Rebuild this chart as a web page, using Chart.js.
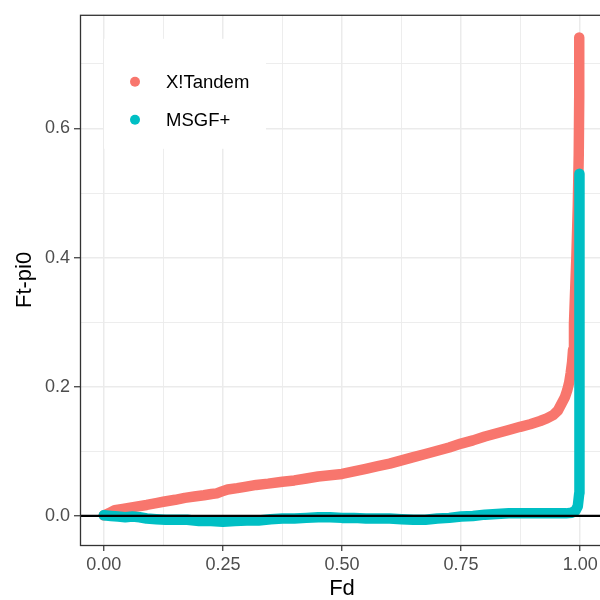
<!DOCTYPE html>
<html>
<head>
<meta charset="utf-8">
<script src="https://cdn.jsdelivr.net/npm/chart.js@4.4.1/dist/chart.umd.min.js"></script>
<style>
    html, body { margin: 0; padding: 0; background: #fff; overflow: hidden; width: 600px; height: 600px; }
    #wrap { width: 606px; height: 600px; }
</style>
</head>
<body>
<div id="wrap"><canvas id="chart" width="606" height="600"></canvas></div>
<script>
// Données
const tandemFd = [0.000, 0.010, 0.023, 0.040, 0.065, 0.090, 0.110, 0.125, 0.150, 0.170, 0.190, 0.210, 0.226, 0.237,
    0.248, 0.260, 0.280, 0.296, 0.320, 0.345, 0.375, 0.400, 0.425, 0.450, 0.475, 0.500, 0.525, 0.550, 0.575, 0.600,
    0.625, 0.650, 0.675, 0.700, 0.725, 0.750, 0.775, 0.800, 0.825, 0.850, 0.874, 0.895, 0.916, 0.930, 0.943, 0.953,
    0.961, 0.968, 0.973, 0.977, 0.980, 0.983, 0.985, 0.987, 0.989, 0.992, 0.995, 0.997, 0.998, 0.998];
const tandemFt = [0.001, 0.004, 0.009, 0.011, 0.014, 0.017, 0.020, 0.022, 0.025, 0.028, 0.030, 0.032, 0.034, 0.035,
    0.038, 0.041, 0.043, 0.045, 0.048, 0.050, 0.053, 0.055, 0.058, 0.061, 0.063, 0.065, 0.069, 0.073, 0.077, 0.081,
    0.086, 0.091, 0.096, 0.101, 0.106, 0.112, 0.117, 0.123, 0.128, 0.133, 0.138, 0.142, 0.147, 0.151, 0.156, 0.163,
    0.174, 0.184, 0.195, 0.207, 0.221, 0.238, 0.257, 0.298, 0.340, 0.400, 0.480, 0.560, 0.650, 0.741];

const msgfFd = [0.000, 0.015, 0.030, 0.045, 0.060, 0.075, 0.090, 0.110, 0.130, 0.150, 0.175, 0.200, 0.225, 0.250,
    0.275, 0.300, 0.325, 0.350, 0.375, 0.400, 0.425, 0.450, 0.475, 0.500, 0.525, 0.550, 0.575, 0.600, 0.625, 0.650,
    0.675, 0.700, 0.725, 0.750, 0.775, 0.800, 0.825, 0.850, 0.875, 0.900, 0.925, 0.950, 0.970, 0.982, 0.990, 0.995,
    0.998, 0.9985, 0.9985];
const msgfFt = [0.001, 0.000, -0.001, -0.002, -0.001, -0.002, -0.004, -0.005, -0.006, -0.006, -0.006, -0.008, -0.008, -0.009,
    -0.008, -0.007, -0.007, -0.005, -0.004, -0.004, -0.003, -0.002, -0.002, -0.003, -0.003, -0.004, -0.004, -0.004, -0.005, -0.006,
    -0.006, -0.004, -0.003, -0.001, 0.000, 0.002, 0.003, 0.004, 0.004, 0.004, 0.004, 0.004, 0.004, 0.005, 0.008, 0.015,
    0.035, 0.100, 0.530];

const seriesNames = ['X!Tandem', 'MSGF+'];
const seriesColors = ['#F8766D', '#00BFC4'];

const xTickValues = [0, 0.25, 0.5, 0.75, 1];
const xTickLabels = ['0.00', '0.25', '0.50', '0.75', '1.00'];
const xMinorValues = [0.125, 0.375, 0.625, 0.875];
const yTickValues = [0, 0.2, 0.4, 0.6];
const yTickLabels = ['0.0', '0.2', '0.4', '0.6'];
const yMinorValues = [0.1, 0.3, 0.5, 0.7];

const fontFamily = '"Liberation Sans", Arial, sans-serif';

function toPoints(xs, ys) {
    return xs.map((x, i) => ({ x: x, y: ys[i] }));
}

function majorIndex(values, v) {
    return values.findIndex(t => Math.abs(t - v) < 1e-9);
}

function axisOptions(majors, labels, minors) {
    return {
        type: 'linear',
        afterBuildTicks: scale => {
            scale.ticks = majors.concat(minors).sort((a, b) => a - b).map(v => ({ value: v }));
        },
        ticks: {
            autoSkip: false,
            maxRotation: 0,
            color: '#4D4D4D',
            font: { family: fontFamily, size: 18 },
            callback: value => {
                const i = majorIndex(majors, value);
                return i >= 0 ? labels[i] : '';
            }
        },
        grid: {
            color: '#EBEBEB',
            lineWidth: ctx => (ctx.tick && majorIndex(majors, ctx.tick.value) >= 0) ? 1.5 : 0.9,
            tickColor: ctx => (ctx.tick && majorIndex(majors, ctx.tick.value) >= 0) ? '#333333' : 'rgba(0,0,0,0)',
            tickLength: 6,
            tickWidth: 1.2
        },
        border: { display: false }
    };
}

const xAxis = axisOptions(xTickValues, xTickLabels, xMinorValues);
xAxis.min = -0.05;
xAxis.max = 1.05;
xAxis.ticks.padding = 3;
xAxis.title = { display: true, text: 'Fd', color: '#000', font: { family: fontFamily, size: 22, lineHeight: 1 }, padding: 0 };
xAxis.afterFit = scale => { scale.height = 55; };

const yAxis = axisOptions(yTickValues, yTickLabels, yMinorValues);
yAxis.min = -0.045;
yAxis.max = 0.776;
yAxis.ticks.padding = 4;
yAxis.title = { display: true, text: 'Ft-pi0', color: '#000', font: { family: fontFamily, size: 22, lineHeight: 1 }, padding: { top: 14, bottom: 0 } };
yAxis.afterFit = scale => { scale.width = 80; };

// Ligne horizontale, légende et cadre du panneau
const panelPlugin = {
    id: 'panel',
    afterDatasetsDraw(chart) {
        const ctx = chart.ctx;
        const ca = chart.chartArea;
        const y0 = chart.scales.y.getPixelForValue(0);
        ctx.save();
        ctx.beginPath();
        ctx.rect(ca.left, ca.top, ca.right - ca.left, ca.bottom - ca.top);
        ctx.clip();
        ctx.strokeStyle = '#000';
        ctx.lineWidth = 2.2;
        ctx.beginPath();
        ctx.moveTo(ca.left, y0);
        ctx.lineTo(ca.right, y0);
        ctx.stroke();
        ctx.restore();

        // légende
        const bx = ca.left + 24, by = ca.top + 24;
        ctx.save();
        ctx.fillStyle = '#fff';
        ctx.fillRect(bx, by, 162, 110);
        seriesNames.forEach((name, i) => {
            const cy = by + 43 + i * 38;
            ctx.fillStyle = seriesColors[i];
            ctx.beginPath();
            ctx.arc(bx + 31, cy, 5, 0, Math.PI * 2);
            ctx.fill();
            ctx.fillStyle = '#000';
            ctx.font = '18.5px ' + fontFamily;
            ctx.textAlign = 'left';
            ctx.textBaseline = 'middle';
            ctx.fillText(name, bx + 62, cy + 1);
        });
        ctx.restore();
    },
    afterDraw(chart) {
        const ctx = chart.ctx;
        const ca = chart.chartArea;
        ctx.save();
        ctx.strokeStyle = '#333333';
        ctx.lineWidth = 1.3;
        ctx.strokeRect(ca.left + 0.5, ca.top + 0.5, ca.right - ca.left, ca.bottom - ca.top);
        ctx.restore();
    }
};

const lineStyle = {
    showLine: true,
    borderWidth: 10.5,
    borderCapStyle: 'round',
    borderJoinStyle: 'round',
    pointRadius: 0,
    tension: 0
};

new Chart(document.getElementById('chart'), {
    type: 'scatter',
    data: {
        datasets: [
            Object.assign({ label: seriesNames[0], data: toPoints(tandemFd, tandemFt), borderColor: seriesColors[0], backgroundColor: seriesColors[0], order: 2 }, lineStyle),
            Object.assign({ label: seriesNames[1], data: toPoints(msgfFd, msgfFt), borderColor: seriesColors[1], backgroundColor: seriesColors[1], order: 1 }, lineStyle)
        ]
    },
    options: {
        responsive: false,
        animation: false,
        devicePixelRatio: 1,
        events: [],
        layout: { padding: { top: 14, right: 2, left: 0, bottom: 0 } },
        plugins: {
            legend: { display: false },
            tooltip: { enabled: false }
        },
        scales: { x: xAxis, y: yAxis }
    },
    plugins: [panelPlugin]
});
</script>
</body>
</html>
